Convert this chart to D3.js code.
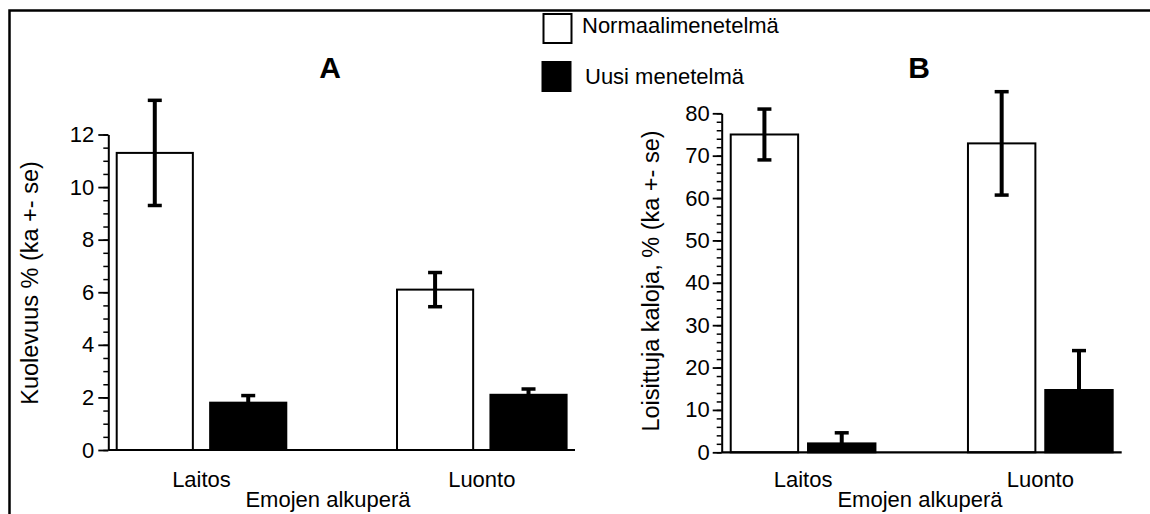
<!DOCTYPE html>
<html>
<head>
<meta charset="utf-8">
<script src="https://cdn.jsdelivr.net/npm/d3@7"></script>
<style>
  html, body { margin: 0; padding: 0; background: #fff; }
  svg { display: block; }
  text { font-family: "Liberation Sans", Arial, sans-serif; fill: #000; }
</style>
</head>
<body>
<svg id="chart" width="1150" height="514"></svg>
<script>
// Parent origin groups and treatment series
const origins = ["Laitos", "Luonto"];
const methods = ["Normaalimenetelmä", "Uusi menetelmä"];

// Panel A: mortality, mean and standard error per origin
const mortalityNormal = [11.3, 6.1];
const mortalityNormalSe = [2.0, 0.65];
const mortalityNew = [1.8, 2.1];
const mortalityNewSe = [0.27, 0.22];
const mortalityTicks = [0, 2, 4, 6, 8, 10, 12];

// Panel B: share of parasitised fish, mean and standard error per origin
const parasitisedNormal = [75.0, 72.9];
const parasitisedNormalSe = [6.0, 12.2];
const parasitisedNew = [2.1, 14.7];
const parasitisedNewSe = [2.5, 9.3];
const parasitisedTicks = [0, 10, 20, 30, 40, 50, 60, 70, 80];

const svg = d3.select("#chart");

// outer frame
svg.append("rect")
  .attr("x", 9.5).attr("y", 10.5)
  .attr("width", 1200).attr("height", 600)
  .attr("fill", "none").attr("stroke", "#000").attr("stroke-width", 2.5);

function drawPanel(cfg) {
  const g = svg.append("g");
  const y = d3.scaleLinear().domain([0, cfg.max]).range([cfg.y0, cfg.y1]);

  const x0 = d3.scaleBand().domain(origins)
    .range([cfg.xl, cfg.xr]).paddingInner(cfg.padIn).paddingOuter(cfg.padOut);
  const x1 = d3.scaleBand().domain(methods)
    .range([0, x0.bandwidth()]).paddingInner(cfg.barPad).paddingOuter(0);

  // minor ticks
  const minor = d3.range(0, cfg.max + 1e-9, cfg.minorStep);
  g.append("g")
    .attr("transform", `translate(${cfg.xl},0)`)
    .call(d3.axisLeft(y).tickValues(minor).tickSize(cfg.minorSize).tickFormat(""))
    .call(a => a.select(".domain").remove())
    .call(a => a.selectAll("line").attr("stroke-width", 1.5));

  // major ticks and labels
  g.append("g")
    .attr("transform", `translate(${cfg.xl},0)`)
    .call(d3.axisLeft(y).tickValues(cfg.ticks).tickSize(cfg.majorSize)
      .tickSizeOuter(0).tickPadding(cfg.tickPad).tickFormat(d3.format("d")))
    .call(a => a.select(".domain").attr("stroke-width", 2))
    .call(a => a.selectAll("line").attr("stroke-width", 1.8))
    .call(a => a.selectAll("text").style("font-size", "22px"));

  const rows = origins.map((o, i) => ({
    origin: o,
    values: [
      { method: methods[0], v: cfg.normal[i], se: cfg.normalSe[i] },
      { method: methods[1], v: cfg.fresh[i], se: cfg.freshSe[i] }
    ]
  }));

  const grp = g.selectAll("g.grp").data(rows).enter().append("g")
    .attr("class", "grp")
    .attr("transform", d => `translate(${x0(d.origin)},0)`);

  grp.selectAll("rect").data(d => d.values).enter().append("rect")
    .attr("x", d => x1(d.method))
    .attr("width", x1.bandwidth())
    .attr("y", d => y(d.v))
    .attr("height", d => y(0) - y(d.v))
    .attr("fill", d => d.method === methods[0] ? "#fff" : "#000")
    .attr("stroke", "#000").attr("stroke-width", 2);

  // error bars: full range on open bars, upper half on filled bars
  const cap = 7;
  grp.selectAll("g.err").data(d => d.values).enter().append("g")
    .attr("class", "err")
    .each(function (d) {
      const cx = x1(d.method) + x1.bandwidth() / 2;
      const lo = d.method === methods[0] ? d.v - d.se : d.v;
      const hi = d.v + d.se;
      const e = d3.select(this);
      e.append("line").attr("x1", cx).attr("x2", cx)
        .attr("y1", y(lo)).attr("y2", y(hi))
        .attr("stroke", "#000").attr("stroke-width", 4);
      e.append("line").attr("x1", cx - cap).attr("x2", cx + cap)
        .attr("y1", y(hi)).attr("y2", y(hi))
        .attr("stroke", "#000").attr("stroke-width", 3.5);
      if (d.method === methods[0]) {
        e.append("line").attr("x1", cx - cap).attr("x2", cx + cap)
          .attr("y1", y(lo)).attr("y2", y(lo))
          .attr("stroke", "#000").attr("stroke-width", 3.5);
      }
    });

  // baseline
  g.append("line")
    .attr("x1", cfg.xl).attr("x2", cfg.xr)
    .attr("y1", y(0)).attr("y2", y(0))
    .attr("stroke", "#000").attr("stroke-width", 2.2);

  // category labels
  g.selectAll("text.cat").data(origins).enter().append("text")
    .attr("class", "cat")
    .attr("x", d => x0(d) + x0.bandwidth() / 2)
    .attr("y", 487)
    .attr("text-anchor", "middle")
    .style("font-size", "22px")
    .text(d => d);

  g.append("text")
    .attr("x", cfg.xTitleX).attr("y", 507)
    .attr("text-anchor", "middle")
    .style("font-size", "22px")
    .text("Emojen alkuperä");

  g.append("text")
    .attr("transform", `translate(${cfg.yTitleX},${cfg.yTitleY}) rotate(-90)`)
    .attr("text-anchor", "middle")
    .style("font-size", "23.5px")
    .text(cfg.yTitle);

  g.append("text")
    .attr("x", cfg.letterX).attr("y", 78)
    .attr("text-anchor", "middle")
    .style("font-size", "30px").style("font-weight", "bold")
    .text(cfg.letter);
}

drawPanel({
  max: 12, y0: 450, y1: 134.5,
  xl: 108.3, xr: 575, padIn: 0.395, padOut: 0.03, barPad: 0.185,
  ticks: mortalityTicks, minorStep: 0.5, minorSize: 5, majorSize: 10, tickPad: 4,
  normal: mortalityNormal, normalSe: mortalityNormalSe,
  fresh: mortalityNew, freshSe: mortalityNewSe,
  xTitleX: 328, yTitleX: 38, yTitleY: 283,
  yTitle: "Kuolevuus % (ka +- se)",
  letter: "A", letterX: 330
});

drawPanel({
  max: 80, y0: 452.3, y1: 113.3,
  xl: 721.7, xr: 1121.7, padIn: 0.39, padOut: 0.038, barPad: 0.128,
  ticks: parasitisedTicks, minorStep: 2, minorSize: 5, majorSize: 9, tickPad: 3,
  normal: parasitisedNormal, normalSe: parasitisedNormalSe,
  fresh: parasitisedNew, freshSe: parasitisedNewSe,
  xTitleX: 920, yTitleX: 659, yTitleY: 281,
  yTitle: "Loisittuja kaloja, % (ka +- se)",
  letter: "B", letterX: 919
});

// legend
const legendRows = [
  { label: methods[0], fill: "#fff", x: 543.5, y: 14, ty: 33, tx: 582 },
  { label: methods[1], fill: "#000", x: 542.5, y: 62, ty: 84, tx: 585 }
];
const lg = svg.append("g");
lg.selectAll("rect").data(legendRows).enter().append("rect")
  .attr("x", d => d.x).attr("y", d => d.y)
  .attr("width", 28).attr("height", 29)
  .attr("fill", d => d.fill).attr("stroke", "#000").attr("stroke-width", 2);
lg.selectAll("text").data(legendRows).enter().append("text")
  .attr("x", d => d.tx).attr("y", d => d.ty)
  .style("font-size", "22px")
  .text(d => d.label);
</script>
</body>
</html>
